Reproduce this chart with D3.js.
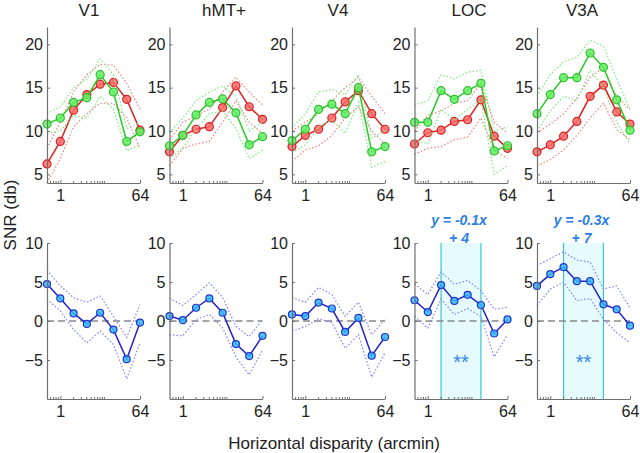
<!DOCTYPE html>
<html>
<head>
<meta charset="utf-8">
<script src="https://cdn.jsdelivr.net/npm/d3@7"></script>
<style>
  body { margin: 0; background: #fff; }
  svg { display: block; font-family: "Liberation Sans", Arial, sans-serif; }
  .axis path, .axis line { stroke: #707070; }
  .axis text { fill: #222; font-size: 16px; }
</style>
</head>
<body>
<svg id="chart" width="640" height="453"></svg>
<script>
// ==========================================
// Data
// ==========================================
const regions = ["V1", "hMT+", "V4", "LOC", "V3A"];
const disparities = [0.5, 1, 2, 4, 8, 16, 32, 64];
const xTickLabels = [1, 64];
const xMinorTicks = [0.6, 0.7, 0.8, 0.9, 2, 3, 4, 5, 6, 7, 8, 9, 10];
const topTicks = [5, 10, 15, 20];
const bottomTicks = [-5, 0, 5, 10];

// top row: green series
const greenMean = [
  [10.8, 11.5, 13.3, 13.85, 16.5, 14.5, 8.8, 9.9],
  [8.3, 9.5, 11.85, 13.3, 13.7, 12.1, 8.4, 9.35],
  [8.9, 10.2, 12.5, 13.1, 12.0, 15.0, 7.6, 8.2],
  [11.0, 11.0, 14.65, 13.65, 14.65, 15.5, 7.7, 8.3],
  [12.0, 14.2, 16.15, 16.15, 19.0, 17.35, 13.6, 10.1]
];
const greenUpper = [
  [12.0, 12.8, 15.0, 16.0, 18.3, 16.5, 10.3, 11.0],
  [9.8, 11.5, 13.5, 14.5, 15.2, 14.0, 10.0, 11.0],
  [10.3, 12.0, 14.5, 14.8, 14.2, 16.5, 9.2, 10.0],
  [13.0, 13.5, 16.5, 16.0, 16.8, 17.0, 10.0, 10.5],
  [14.0, 16.5, 18.0, 18.5, 20.5, 19.8, 16.0, 12.5]
];
const greenLower = [
  [9.7, 10.0, 11.8, 11.5, 14.0, 12.5, 7.7, 8.5],
  [6.8, 8.0, 10.3, 12.0, 12.3, 10.3, 6.8, 7.8],
  [7.5, 8.4, 10.5, 11.3, 9.7, 13.3, 5.8, 6.5],
  [9.0, 8.5, 12.5, 11.3, 12.5, 13.5, 5.0, 6.0],
  [10.0, 12.3, 14.0, 13.5, 17.0, 15.0, 11.0, 8.5]
];

// top row: red series
const redMean = [
  [6.2, 8.8, 12.4, 14.2, 15.4, 15.6, 13.65, 10.1],
  [7.6, 9.5, 10.2, 10.5, 12.7, 15.2, 12.8, 11.35],
  [8.2, 9.5, 10.2, 11.5, 13.35, 14.65, 12.0, 10.2],
  [8.5, 9.8, 10.1, 11.1, 11.3, 13.6, 9.4, 8.0],
  [7.6, 8.4, 9.4, 11.1, 14.0, 15.3, 12.2, 10.8]
];
const redUpper = [
  [8.0, 11.0, 14.5, 16.5, 17.7, 17.6, 15.5, 12.5],
  [9.0, 11.0, 11.8, 12.5, 14.5, 16.2, 14.5, 13.0],
  [10.0, 11.0, 12.0, 13.5, 15.0, 16.2, 14.0, 12.0],
  [10.0, 11.8, 12.3, 13.2, 13.5, 15.5, 11.0, 9.8],
  [9.8, 10.8, 12.0, 13.8, 16.2, 17.3, 14.0, 12.5]
];
const redLower = [
  [4.0, 6.8, 10.5, 12.0, 13.2, 13.2, 11.5, 8.0],
  [6.0, 8.0, 8.5, 8.8, 11.0, 13.5, 11.0, 9.7],
  [6.5, 7.8, 8.3, 9.5, 11.5, 12.8, 10.0, 8.5],
  [7.3, 8.0, 8.2, 9.0, 9.3, 11.5, 7.8, 6.8],
  [6.0, 6.7, 7.8, 9.5, 11.5, 13.2, 10.2, 9.0]
];

// bottom row: difference (blue)
const diffMean = [
  [4.74, 2.9, 0.97, -0.37, 1.06, -1.1, -4.9, -0.2],
  [0.63, 0.1, 1.7, 2.9, 1.06, -2.96, -4.5, -1.9],
  [0.84, 0.63, 2.36, 1.6, -1.4, 0.4, -4.44, -2.05],
  [2.66, 1.15, 4.6, 2.57, 3.35, 2.05, -1.6, 0.2],
  [4.5, 6.0, 6.9, 5.1, 5.1, 2.14, 1.5, -0.6]
];
const diffUpper = [
  [6.5, 4.5, 3.0, 2.4, 3.2, 0.6, -2.1, 2.1],
  [2.9, 2.0, 3.4, 4.9, 3.0, -0.7, -2.0, 0.2],
  [3.0, 2.4, 4.3, 3.4, 0.6, 2.4, -1.75, 0.2],
  [4.74, 3.4, 6.3, 4.7, 5.2, 3.9, 1.5, 1.75],
  [7.1, 8.0, 8.85, 7.8, 7.55, 4.1, 4.5, 1.7]
];
const diffLower = [
  [2.8, 1.3, -1.1, -2.8, -1.3, -3.0, -7.4, -2.8],
  [-1.75, -1.9, 0.2, 0.84, -0.9, -4.6, -6.9, -3.7],
  [-1.3, -0.7, 0.3, -0.2, -3.5, -1.75, -7.2, -4.1],
  [0.6, -0.9, 2.8, 0.84, 1.6, 0.6, -4.6, -1.75],
  [2.0, 4.1, 5.0, 2.6, 2.9, 0.2, -1.5, -2.8]
];

// significance windows and fit labels
const shadeRanges = [null, null, null, [2, 16], [2, 16]];
const fitLine1 = ["", "", "", "y = -0.1x", "y = -0.3x"];
const fitLine2 = ["", "", "", "+ 4", "+ 7"];
const starLabels = ["", "", "", "**", "**"];

// ==========================================
// Layout
// ==========================================
const panelW = 93, panelH = 156;
const panelLeft = i => 47 + i * 122.5;
const topRowY = 27, bottomRowY = 243;
const titleX = [89, 224, 338, 469, 582];

const svg = d3.select("#chart");

const x = d3.scaleLog().base(2).domain([0.5, 64]).range([0, panelW]);
const yTop = d3.scaleLinear().domain([4, 22]).range([panelH, 0]);
const yBot = d3.scaleLinear().domain([-10, 10]).range([panelH, 0]);

const colors = {
  green: { line: "#22cc22", fill: "#66ee66", edge: "#2fbf2f", band: "#7de87d" },
  red:   { line: "#dd2222", fill: "#ff6a6a", edge: "#d82020", band: "#f08080" },
  blue:  { line: "#2222cc", fill: "#33bbff", edge: "#2233cc", band: "#7f7fff" }
};

function drawSeries(g, y, mean, upper, lower, c, r) {
  const line = d3.line().x((d, i) => x(disparities[i])).y(d => y(d));
  [upper, lower].forEach(b => {
    g.append("path").datum(b)
      .attr("d", line)
      .attr("fill", "none")
      .attr("stroke", c.band)
      .attr("stroke-width", 1.2)
      .attr("stroke-dasharray", "1.5,2");
  });
  g.append("path").datum(mean)
    .attr("d", line)
    .attr("fill", "none")
    .attr("stroke", c.line)
    .attr("stroke-width", 1.5);
  g.selectAll(null).data(mean).enter().append("circle")
    .attr("cx", (d, i) => x(disparities[i]))
    .attr("cy", d => y(d))
    .attr("r", r)
    .attr("fill", c.fill)
    .attr("fill-opacity", 0.85)
    .attr("stroke", c.edge)
    .attr("stroke-width", 1.2);
}

function drawAxes(g, y, ticks) {
  g.append("g").attr("class", "axis")
    .call(d3.axisLeft(y).tickValues(ticks).tickSizeInner(-3).tickSizeOuter(0).tickPadding(4))
    .call(a => a.select(".domain").attr("stroke-width", 1.2));

  const xa = g.append("g").attr("class", "axis")
    .attr("transform", `translate(0,${panelH})`);
  xa.call(d3.axisBottom(x).tickValues(xTickLabels).tickFormat(d3.format("d"))
      .tickSizeInner(-3).tickSizeOuter(0).tickPadding(7))
    .call(a => a.select(".domain").attr("stroke-width", 1.2));
  xa.selectAll(".minor").data(xMinorTicks).enter().append("line")
    .attr("class", "minor")
    .attr("x1", d => x(d)).attr("x2", d => x(d))
    .attr("y1", 0).attr("y2", -2)
    .attr("stroke", "#707070");
}

regions.forEach((name, i) => {
  // top row
  const gt = svg.append("g").attr("transform", `translate(${panelLeft(i)},${topRowY})`);
  drawSeries(gt, yTop, redMean[i], redUpper[i], redLower[i], colors.red, 4);
  drawSeries(gt, yTop, greenMean[i], greenUpper[i], greenLower[i], colors.green, 4);
  drawAxes(gt, yTop, topTicks);

  svg.append("text")
    .attr("x", titleX[i]).attr("y", 16)
    .attr("text-anchor", "middle")
    .attr("font-size", 17).attr("fill", "#222")
    .text(name);

  // bottom row
  const gb = svg.append("g").attr("transform", `translate(${panelLeft(i)},${bottomRowY})`);
  const s = shadeRanges[i];
  if (s) {
    gb.append("rect")
      .attr("x", x(s[0])).attr("y", 0)
      .attr("width", x(s[1]) - x(s[0])).attr("height", panelH)
      .attr("fill", "#e6fbfd");
    s.forEach(v => {
      gb.append("line")
        .attr("x1", x(v)).attr("x2", x(v))
        .attr("y1", 0).attr("y2", panelH)
        .attr("stroke", "#33c8d0").attr("stroke-width", 1.2);
    });
    gb.append("text")
      .attr("x", (x(s[0]) + x(s[1])) / 2).attr("y", yBot(-5) + 9)
      .attr("text-anchor", "middle")
      .attr("font-size", 20).attr("fill", "#2f86ec")
      .text(starLabels[i]);
  }
  gb.append("line")
    .attr("x1", 0).attr("x2", panelW)
    .attr("y1", yBot(0)).attr("y2", yBot(0))
    .attr("stroke", "#888").attr("stroke-width", 1.5)
    .attr("stroke-dasharray", "7,4");
  drawSeries(gb, yBot, diffMean[i], diffUpper[i], diffLower[i], colors.blue, 3.5);
  drawAxes(gb, yBot, bottomTicks);

  if (fitLine1[i]) {
    const cx = panelLeft(i) + panelW / 2 - 2;
    svg.append("text")
      .attr("x", cx).attr("y", 225)
      .attr("text-anchor", "middle")
      .attr("font-size", 14).attr("font-style", "italic").attr("font-weight", "bold")
      .attr("fill", "#2a7fe6")
      .text(fitLine1[i]);
    svg.append("text")
      .attr("x", cx).attr("y", 243)
      .attr("text-anchor", "middle")
      .attr("font-size", 14).attr("font-style", "italic").attr("font-weight", "bold")
      .attr("fill", "#2a7fe6")
      .text(fitLine2[i]);
  }
});

// shared axis labels
svg.append("text")
  .attr("transform", "translate(16,215) rotate(-90)")
  .attr("text-anchor", "middle")
  .attr("font-size", 17).attr("fill", "#222")
  .text("SNR (db)");

svg.append("text")
  .attr("x", 334).attr("y", 449)
  .attr("text-anchor", "middle")
  .attr("font-size", 17).attr("fill", "#222")
  .text("Horizontal disparity (arcmin)");
</script>
</body>
</html>
